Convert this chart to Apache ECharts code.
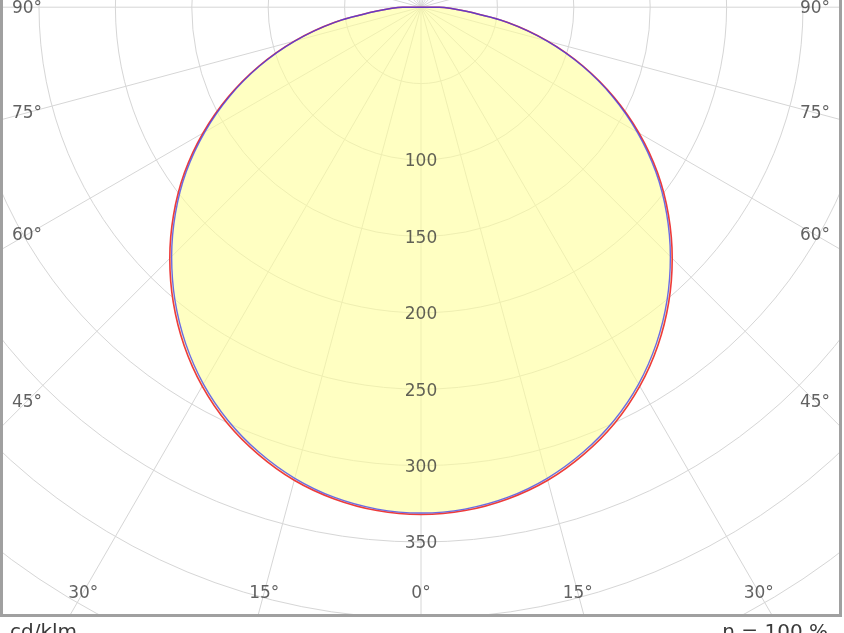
<!DOCTYPE html>
<html>
<head>
<meta charset="utf-8">
<script src="https://cdn.jsdelivr.net/npm/echarts@6/dist/echarts.min.js"></script>
<style>
html,body{margin:0;padding:0;background:#fff;}
#chart{width:844px;height:633px;}
</style>
</head>
<body>
<div id="chart"></div>
<script>
// ---- data (cd/klm) ----
const gammaDeg = [0, 5, 10, 15, 20, 25, 30, 35, 40, 45, 50, 55, 60, 65, 70, 75, 80, 85, 90];
const planeC0C180 = [332, 330.7, 326.8, 320.5, 311.4, 300.2, 286.4, 270.3, 252.2, 232.5, 211.4, 189, 164.8, 139.4, 113, 85.8, 57.7, 29, 12];
const planeC90C270 = [331, 329.7, 325.8, 319.2, 310, 298.6, 284.8, 268.6, 250.5, 230.8, 209.8, 187.5, 163.4, 138.3, 112.2, 85.2, 57.3, 28.8, 12];
const radiusTicks = [100, 150, 200, 250, 300, 350];
const angleTicks = [90, 75, 60, 45, 30, 15, 0];
const unitText = 'cd/klm';
const effText = 'η = 100 %';

// ---- layout ----
const CX = 421, CY = 7.2;
const PX_PER_UNIT = 1.528;
const R_MAX = 550;
const SIDE_DX = 394;   // horizontal distance of side labels from centre
const BOTTOM_DY = 585; // vertical distance of bottom labels from centre
const FONT = 'DejaVu Sans';
const TXT = '#3a3a3a';

function curve(vals) {
  const pts = [[0, 180]];
  for (let i = gammaDeg.length - 1; i >= 1; i--) pts.push([vals[i], 360 - gammaDeg[i]]);
  for (let i = 0; i < gammaDeg.length; i++) pts.push([vals[i], gammaDeg[i]]);
  pts.push([0, 180]);
  return pts;
}

const angleLabelData = [];
angleTicks.forEach(a => {
  const rad = a * Math.PI / 180;
  let rpx;
  if (a >= 45) rpx = SIDE_DX / Math.sin(rad);
  else rpx = BOTTOM_DY / Math.cos(rad);
  const r = rpx / PX_PER_UNIT;
  angleLabelData.push({ value: [r, a], name: a + '°' });
  if (a !== 0) angleLabelData.push({ value: [r, 360 - a], name: a + '°' });
});

const chart = echarts.init(document.getElementById('chart'), null, { renderer: 'canvas' });
chart.setOption({
  animation: false,
  backgroundColor: '#fff',
  polar: { center: [CX, CY], radius: R_MAX * PX_PER_UNIT },
  angleAxis: {
    type: 'value', min: 0, max: 360, interval: 15, startAngle: 270, clockwise: true,
    axisLine: { show: false }, axisTick: { show: false }, axisLabel: { show: false },
    splitLine: { show: true, lineStyle: { color: '#d6d6d6', width: 1 } }
  },
  radiusAxis: {
    type: 'value', min: 0, max: R_MAX, interval: 50,
    axisLine: { show: false }, axisTick: { show: false }, axisLabel: { show: false },
    splitLine: { show: true, lineStyle: { color: '#d6d6d6', width: 1 } }
  },
  series: [
    {
      type: 'line', coordinateSystem: 'polar', data: curve(planeC0C180),
      symbol: 'none', smooth: 0.3, z: 3,
      lineStyle: { color: '#ee3b3b', width: 1.6 },
      areaStyle: { color: '#ffff99', opacity: 0.6 }
    },
    {
      type: 'line', coordinateSystem: 'polar', data: curve(planeC90C270),
      symbol: 'none', smooth: 0.3, z: 4,
      lineStyle: { color: '#3a3af0', width: 1.4, opacity: 0.75 }
    },
    {
      type: 'scatter', coordinateSystem: 'polar', z: 5,
      data: radiusTicks.map(v => [v, 0]),
      symbolSize: 1, itemStyle: { color: 'rgba(0,0,0,0)' },
      label: { show: true, position: 'inside', offset: [0, 2], formatter: p => String(p.value[0]),
        color: TXT, fontFamily: FONT, fontSize: 17 }
    },
    {
      type: 'scatter', coordinateSystem: 'polar', z: 5,
      data: angleLabelData,
      symbolSize: 1, itemStyle: { color: 'rgba(0,0,0,0)' },
      label: { show: true, position: 'inside', offset: [0, 1], formatter: p => p.name,
        color: TXT, fontFamily: FONT, fontSize: 17 }
    }
  ],
  graphic: [
    { type: 'rect', z: 100, shape: { x: 0, y: 617, width: 844, height: 20 }, style: { fill: '#fff' } },
    { type: 'rect', z: 100, shape: { x: 842, y: 0, width: 4, height: 633 }, style: { fill: '#fff' } },
    { type: 'rect', z: 101, shape: { x: 1.5, y: -10, width: 839, height: 625.5 },
      style: { fill: 'none', stroke: '#a0a0a0', lineWidth: 3 } },
    { type: 'text', z: 102, left: 10, top: 623,
      style: { text: unitText, fill: TXT, font: '20px "DejaVu Sans"' } },
    { type: 'text', z: 102, right: 16, top: 623,
      style: { text: effText, fill: TXT, font: '20px "DejaVu Sans"' } }
  ]
});
</script>
</body>
</html>
